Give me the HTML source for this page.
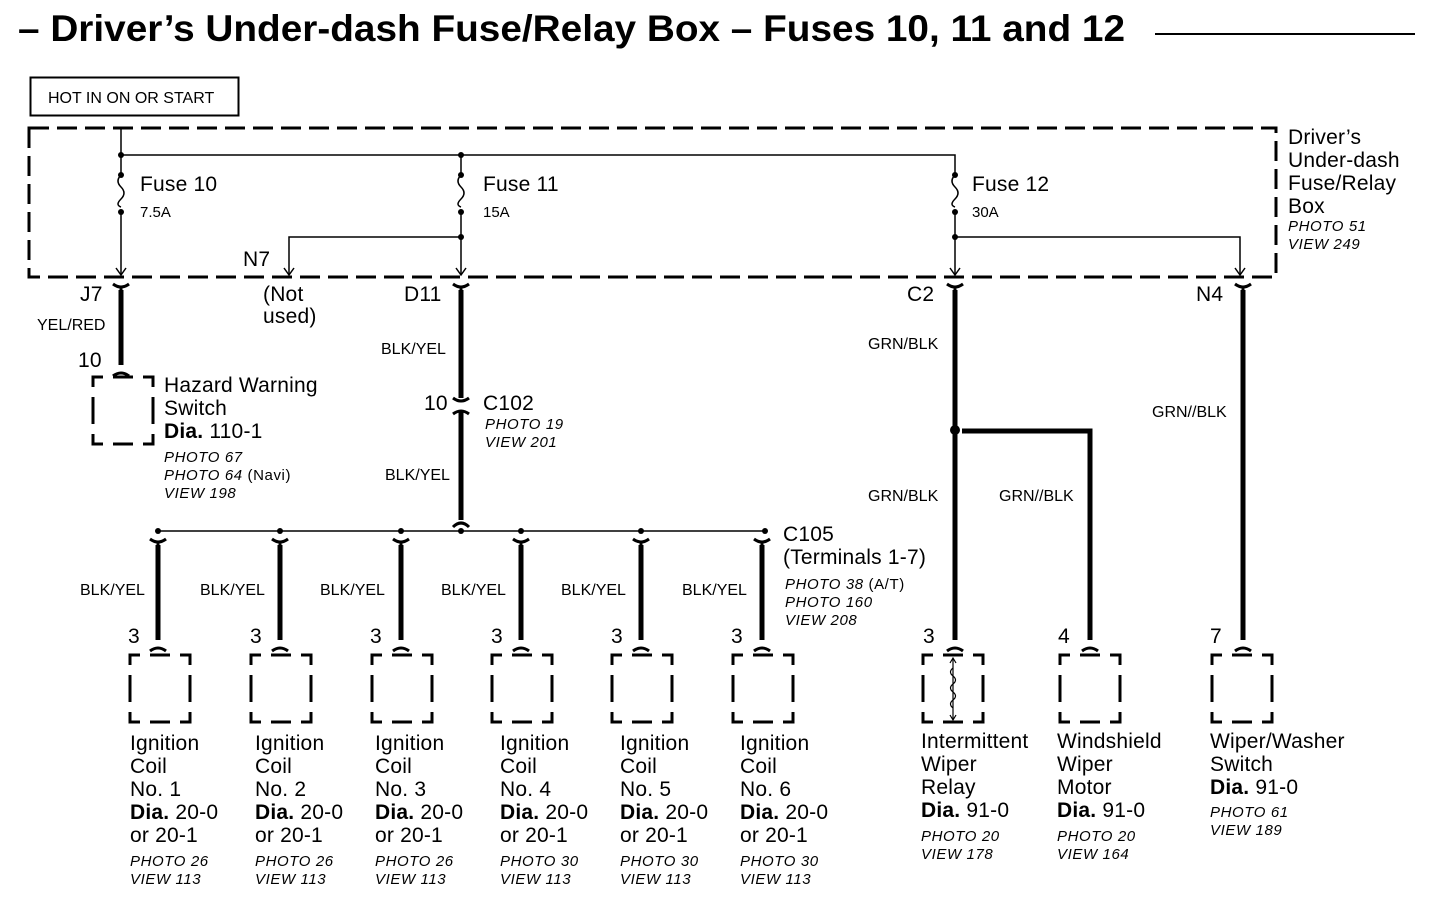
<!DOCTYPE html>
<html><head><meta charset="utf-8"><style>
body{margin:0;background:#fff}
svg{display:block}
text{font-family:"Liberation Sans",sans-serif;fill:#000}
.t{font-size:21px;letter-spacing:0.2px}
.s{font-size:15px}
.w{font-size:16px}
.i{font-size:15px;font-style:italic;letter-spacing:0.6px}
.b{font-weight:bold}
</style></head><body>
<svg width="1440" height="916" viewBox="0 0 1440 916" xmlns="http://www.w3.org/2000/svg">
<defs>
<g id="yc"><path d="M-8,-6 Q0,0 8,-6 M0,-2 V8" stroke="#000" stroke-width="3" fill="none"/></g>
<g id="ac"><path d="M-8,6 Q0,0 8,6" stroke="#000" stroke-width="3" fill="none"/></g>
<g id="box"><path d="M0,10 V0 H10 M20,0 H40 M50,0 H60 V10 M60,20 V47 M60,57 V67 H50 M40,67 H20 M10,67 H0 V57 M0,47 V20" stroke="#000" stroke-width="3" fill="none"/></g>
</defs>
<text x="18" y="41" class="b" font-size="37" textLength="1107" lengthAdjust="spacingAndGlyphs">– Driver’s Under-dash Fuse/Relay Box – Fuses 10, 11 and 12</text>
<line x1="1155" y1="34" x2="1415" y2="34" stroke="#000" stroke-width="2"/>
<rect x="30.5" y="77.5" width="208" height="38" fill="none" stroke="#000" stroke-width="2"/>
<text x="48" y="103" font-size="16">HOT IN ON OR START</text>
<rect x="29" y="128" width="1247" height="149" fill="none" stroke="#000" stroke-width="3" stroke-dasharray="20,8"/>
<g stroke="#000" stroke-width="1.5" fill="none">
<path d="M121,128 V175 M121,155 H955 V175 M461,155 V175"/>
<path d="M121,175 q-6,6 0,12 q6,6 0,12 q-6,6 0,8 M461,175 q-6,6 0,12 q6,6 0,12 q-6,6 0,8 M955,175 q-6,6 0,12 q6,6 0,12 q-6,6 0,8"/>
<path d="M121,212 V275 M461,212 V275 M955,212 V275 M461,237 H289 V275 M955,237 H1240 V275"/>
<path d="M116,268 L121,275 L126,268 M456,268 L461,275 L466,268 M950,268 L955,275 L960,268 M284,268 L289,275 L294,268 M1235,268 L1240,275 L1245,268"/>
<path d="M158,531 H765"/>
</g>
<g fill="#000">
<circle cx="121" cy="155" r="3"/><circle cx="461" cy="155" r="3"/>
<circle cx="121" cy="175" r="3"/><circle cx="121" cy="212" r="3"/>
<circle cx="461" cy="175" r="3"/><circle cx="461" cy="212" r="3"/><circle cx="461" cy="237" r="3"/>
<circle cx="955" cy="175" r="3"/><circle cx="955" cy="212" r="3"/><circle cx="955" cy="237" r="3"/>
<circle cx="158" cy="531" r="3"/><circle cx="280" cy="531" r="3"/><circle cx="401" cy="531" r="3"/><circle cx="461" cy="531" r="3"/><circle cx="521" cy="531" r="3"/><circle cx="641" cy="531" r="3"/><circle cx="765" cy="531" r="3"/>
<circle cx="955" cy="430" r="5"/>
</g>
<g stroke="#000" stroke-width="5" fill="none">
<path d="M121,290 V365 M461,290 V398 M461,412 V520 M955,290 V640 M962,431 H1090 V640 M1243,290 V640"/>
<path d="M158,545 V640 M280,545 V640 M401,545 V640 M521,545 V640 M641,545 V640 M762,545 V640"/>
</g>
<g>
<use href="#yc" x="121" y="290"/><use href="#yc" x="461" y="290"/><use href="#yc" x="955" y="290"/><use href="#yc" x="1243" y="290"/>
<use href="#yc" x="158" y="545"/><use href="#yc" x="280" y="545"/><use href="#yc" x="401" y="545"/><use href="#yc" x="521" y="545"/><use href="#yc" x="641" y="545"/><use href="#yc" x="762" y="545"/>
<use href="#ac" x="158" y="645"/><use href="#ac" x="280" y="645"/><use href="#ac" x="401" y="645"/><use href="#ac" x="521" y="645"/><use href="#ac" x="641" y="645"/><use href="#ac" x="762" y="645"/>
<use href="#ac" x="955" y="645"/><use href="#ac" x="1090" y="645"/><use href="#ac" x="1243" y="645"/>
<use href="#ac" x="121" y="370"/>
<path d="M453,398 Q461,404 469,398 M453,414 Q461,408 469,414 M453,527 Q461,519 469,527" stroke="#000" stroke-width="3" fill="none"/>
</g>
<use href="#box" x="93" y="377"/>
<use href="#box" x="130" y="655"/><use href="#box" x="251" y="655"/><use href="#box" x="372" y="655"/><use href="#box" x="492" y="655"/><use href="#box" x="612" y="655"/><use href="#box" x="733" y="655"/>
<use href="#box" x="923" y="655"/><use href="#box" x="1060" y="655"/><use href="#box" x="1212" y="655"/>
<path d="M953,658 V720 M950,663 L953,658 L956,663 M950,715 L953,720 L956,715 M953,668 q-5,4 0,8 q5,4 0,8 q-5,4 0,8 q5,4 0,8 q-5,4 0,8" stroke="#000" stroke-width="1.2" fill="none"/>
<text x="140" y="191" class="t">Fuse 10</text><text x="140" y="217" class="s">7.5A</text>
<text x="483" y="191" class="t">Fuse 11</text><text x="483" y="217" class="s">15A</text>
<text x="972" y="191" class="t">Fuse 12</text><text x="972" y="217" class="s">30A</text>
<text x="1288" y="144" class="t">Driver’s</text><text x="1288" y="167" class="t">Under-dash</text><text x="1288" y="190" class="t">Fuse/Relay</text><text x="1288" y="213" class="t">Box</text>
<text x="1288" y="231" class="i">PHOTO 51</text><text x="1288" y="249" class="i">VIEW 249</text>
<text x="243" y="266" class="t">N7</text>
<text x="80" y="301" class="t">J7</text>
<text x="263" y="301" class="t">(Not</text><text x="263" y="323" class="t">used)</text>
<text x="404" y="301" class="t">D11</text>
<text x="907" y="301" class="t">C2</text>
<text x="1196" y="301" class="t">N4</text>
<text x="37" y="330" class="w">YEL/RED</text>
<text x="78" y="367" class="t">10</text>
<text x="164" y="392" class="t">Hazard Warning</text><text x="164" y="415" class="t">Switch</text>
<text x="164" y="438" class="t"><tspan class="b">Dia.</tspan> 110-1</text>
<text x="164" y="462" class="i">PHOTO 67</text><text x="164" y="480" class="i">PHOTO 64 <tspan font-style="normal">(Navi)</tspan></text><text x="164" y="498" class="i">VIEW 198</text>
<text x="381" y="354" class="w">BLK/YEL</text>
<text x="424" y="410" class="t">10</text>
<text x="483" y="410" class="t">C102</text><text x="485" y="429" class="i">PHOTO 19</text><text x="485" y="447" class="i">VIEW 201</text>
<text x="385" y="480" class="w">BLK/YEL</text>
<text x="783" y="541" class="t">C105</text><text x="783" y="564" class="t">(Terminals 1-7)</text>
<text x="785" y="589" class="i">PHOTO 38 <tspan font-style="normal">(A/T)</tspan></text><text x="785" y="607" class="i">PHOTO 160</text><text x="785" y="625" class="i">VIEW 208</text>
<text x="868" y="349" class="w">GRN/BLK</text>
<text x="1152" y="417" class="w">GRN//BLK</text>
<text x="868" y="501" class="w">GRN/BLK</text>
<text x="999" y="501" class="w">GRN//BLK</text>
<text x="80" y="595" class="w">BLK/YEL</text><text x="200" y="595" class="w">BLK/YEL</text><text x="320" y="595" class="w">BLK/YEL</text><text x="441" y="595" class="w">BLK/YEL</text><text x="561" y="595" class="w">BLK/YEL</text><text x="682" y="595" class="w">BLK/YEL</text>
<text x="128" y="643" class="t">3</text><text x="250" y="643" class="t">3</text><text x="370" y="643" class="t">3</text><text x="491" y="643" class="t">3</text><text x="611" y="643" class="t">3</text><text x="731" y="643" class="t">3</text>
<text x="923" y="643" class="t">3</text><text x="1058" y="643" class="t">4</text><text x="1210" y="643" class="t">7</text>
<g>
<text x="130" y="750" class="t">Ignition</text><text x="130" y="773" class="t">Coil</text><text x="130" y="796" class="t">No. 1</text><text x="130" y="819" class="t"><tspan class="b">Dia.</tspan> 20-0</text><text x="130" y="842" class="t">or 20-1</text><text x="130" y="866" class="i">PHOTO 26</text><text x="130" y="884" class="i">VIEW 113</text>
<text x="255" y="750" class="t">Ignition</text><text x="255" y="773" class="t">Coil</text><text x="255" y="796" class="t">No. 2</text><text x="255" y="819" class="t"><tspan class="b">Dia.</tspan> 20-0</text><text x="255" y="842" class="t">or 20-1</text><text x="255" y="866" class="i">PHOTO 26</text><text x="255" y="884" class="i">VIEW 113</text>
<text x="375" y="750" class="t">Ignition</text><text x="375" y="773" class="t">Coil</text><text x="375" y="796" class="t">No. 3</text><text x="375" y="819" class="t"><tspan class="b">Dia.</tspan> 20-0</text><text x="375" y="842" class="t">or 20-1</text><text x="375" y="866" class="i">PHOTO 26</text><text x="375" y="884" class="i">VIEW 113</text>
<text x="500" y="750" class="t">Ignition</text><text x="500" y="773" class="t">Coil</text><text x="500" y="796" class="t">No. 4</text><text x="500" y="819" class="t"><tspan class="b">Dia.</tspan> 20-0</text><text x="500" y="842" class="t">or 20-1</text><text x="500" y="866" class="i">PHOTO 30</text><text x="500" y="884" class="i">VIEW 113</text>
<text x="620" y="750" class="t">Ignition</text><text x="620" y="773" class="t">Coil</text><text x="620" y="796" class="t">No. 5</text><text x="620" y="819" class="t"><tspan class="b">Dia.</tspan> 20-0</text><text x="620" y="842" class="t">or 20-1</text><text x="620" y="866" class="i">PHOTO 30</text><text x="620" y="884" class="i">VIEW 113</text>
<text x="740" y="750" class="t">Ignition</text><text x="740" y="773" class="t">Coil</text><text x="740" y="796" class="t">No. 6</text><text x="740" y="819" class="t"><tspan class="b">Dia.</tspan> 20-0</text><text x="740" y="842" class="t">or 20-1</text><text x="740" y="866" class="i">PHOTO 30</text><text x="740" y="884" class="i">VIEW 113</text>
<text x="921" y="748" class="t">Intermittent</text><text x="921" y="771" class="t">Wiper</text><text x="921" y="794" class="t">Relay</text><text x="921" y="817" class="t"><tspan class="b">Dia.</tspan> 91-0</text><text x="921" y="841" class="i">PHOTO 20</text><text x="921" y="859" class="i">VIEW 178</text>
<text x="1057" y="748" class="t">Windshield</text><text x="1057" y="771" class="t">Wiper</text><text x="1057" y="794" class="t">Motor</text><text x="1057" y="817" class="t"><tspan class="b">Dia.</tspan> 91-0</text><text x="1057" y="841" class="i">PHOTO 20</text><text x="1057" y="859" class="i">VIEW 164</text>
<text x="1210" y="748" class="t">Wiper/Washer</text><text x="1210" y="771" class="t">Switch</text><text x="1210" y="794" class="t"><tspan class="b">Dia.</tspan> 91-0</text><text x="1210" y="817" class="i">PHOTO 61</text><text x="1210" y="835" class="i">VIEW 189</text>
</g>
</svg>
</body></html>
